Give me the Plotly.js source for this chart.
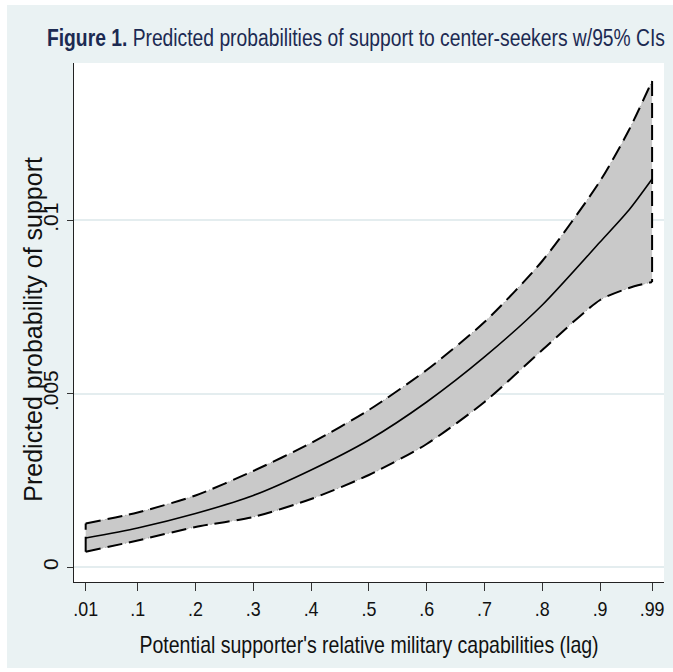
<!DOCTYPE html>
<html>
<head>
<meta charset="utf-8">
<script src="https://cdn.plot.ly/plotly-3.0.1.min.js"></script>
<style>
html,body{margin:0;padding:0;background:#ffffff;}
#chart{position:absolute;left:7px;top:5px;width:666px;height:663px;}
</style>
</head>
<body>
<div id="chart"></div>
<script>
// capability values (x)
var capability = [0.01, 0.1, 0.2, 0.3, 0.4, 0.5, 0.6, 0.7, 0.8, 0.9, 0.95, 0.99];
// predicted probability (central estimate)
var predicted = [0.000844, 0.001133, 0.00155, 0.002069, 0.002804, 0.003669, 0.004764, 0.006061, 0.007559, 0.009375, 0.010297, 0.01119];
// upper 95% CI
var upperCI = [0.001262, 0.001579, 0.002069, 0.002775, 0.003582, 0.004533, 0.005686, 0.007069, 0.008827, 0.011133, 0.012602, 0.014014];
// lower 95% CI
var lowerCI = [0.00045, 0.000772, 0.001161, 0.00145, 0.001968, 0.00266, 0.003553, 0.004764, 0.006262, 0.007703, 0.008049, 0.008222];

var xTickVals = [0.01, 0.1, 0.2, 0.3, 0.4, 0.5, 0.6, 0.7, 0.8, 0.9, 0.99];
var xTickText = ['.01', '.1', '.2', '.3', '.4', '.5', '.6', '.7', '.8', '.9', '.99'];
var yTickVals = [0, 0.005, 0.01];
var yTickText = ['0', '.005', '.01'];

var n = capability.length;
var sans = '"Liberation Sans", Arial, Helvetica, sans-serif';
var dashed = {shape: 'spline', smoothing: 0.7, color: '#000000', width: 2, dash: '15px,7px'};
var dotted = {shape: 'spline', smoothing: 0.7, color: '#8c8c8c', width: 1, dash: '1px,3px'};
var leftX = [capability[0], capability[0]], leftY = [lowerCI[0], upperCI[0]];
var rightX = [capability[n - 1], capability[n - 1]], rightY = [upperCI[n - 1], lowerCI[n - 1]];

var traces = [
  {x: capability, y: lowerCI, type: 'scatter', mode: 'lines', line: dotted, hoverinfo: 'skip'},
  {x: capability, y: upperCI, type: 'scatter', mode: 'lines', line: dotted,
   fill: 'tonexty', fillcolor: '#C9C9C9', hoverinfo: 'skip'},
  {x: capability, y: lowerCI, type: 'scatter', mode: 'lines', line: dashed, hoverinfo: 'skip'},
  {x: capability, y: upperCI, type: 'scatter', mode: 'lines', line: dashed, hoverinfo: 'skip'},
  {x: leftX, y: leftY, type: 'scatter', mode: 'lines',
   line: {color: '#000000', width: 2, dash: '15px,7px'}, hoverinfo: 'skip'},
  {x: rightX, y: rightY, type: 'scatter', mode: 'lines',
   line: {color: '#000000', width: 2, dash: '15px,7px'}, hoverinfo: 'skip'},
  {x: capability, y: predicted, type: 'scatter', mode: 'lines',
   line: {shape: 'spline', smoothing: 0.7, color: '#000000', width: 1.6}, hoverinfo: 'skip'}
];

var layout = {
  width: 666, height: 663,
  paper_bgcolor: '#EAF2F3', plot_bgcolor: '#FFFFFF',
  margin: {l: 67, r: 9, t: 58, b: 86},
  showlegend: false,
  title: {
    text: '<b>Figure 1.</b> Predicted probabilities of support to center-seekers w/95% CIs',
    font: {family: sans, size: 23.5, color: '#1C2A52'},
    x: 0.524, xanchor: 'center', y: 0.950, yanchor: 'middle'
  },
  xaxis: {
    range: [-0.0102, 1.0106],
    tickvals: xTickVals, ticktext: xTickText,
    ticks: 'outside', ticklen: 8, tickwidth: 1, tickcolor: '#333333',
    showline: true, linecolor: '#222222', linewidth: 1.2,
    showgrid: false, zeroline: false,
    tickfont: {family: sans, size: 21, color: '#111111'},
    title: {text: "Potential supporter's relative military capabilities (lag)",
            font: {family: sans, size: 23.8, color: '#111111'}, standoff: 17}
  },
  yaxis: {
    range: [-0.000424, 0.014533],
    tickvals: yTickVals, ticktext: yTickText,
    tickangle: -90,
    ticks: 'outside', ticklen: 6, tickwidth: 1, tickcolor: '#333333',
    showline: true, linecolor: '#222222', linewidth: 1.2,
    showgrid: true, gridcolor: '#E4EDEF', gridwidth: 1.6, zeroline: false,
    tickfont: {family: sans, size: 21, color: '#111111'}
  },
  annotations: [{
    text: 'Predicted probability of support', textangle: -90,
    xref: 'paper', yref: 'paper', x: -0.0695, y: 0.488,
    xanchor: 'center', yanchor: 'middle', showarrow: false,
    font: {family: sans, size: 25, color: '#111111'}
  }]
};

Plotly.newPlot('chart', traces, layout, {displayModeBar: false, staticPlot: true}).then(function () {
  // emulate the condensed (narrow) face used in the original
  function condense(el, factor) {
    var w = el.getComputedTextLength();
    el.setAttribute('textLength', (w * factor).toFixed(1));
    el.setAttribute('lengthAdjust', 'spacingAndGlyphs');
  }
  document.querySelectorAll('.gtitle').forEach(function (el) { condense(el, 0.82); });
  document.querySelectorAll('.g-xtitle text').forEach(function (el) { condense(el, 0.82); });
  document.querySelectorAll('.xtick text').forEach(function (el) { condense(el, 0.85); });
});
</script>
</body>
</html>
